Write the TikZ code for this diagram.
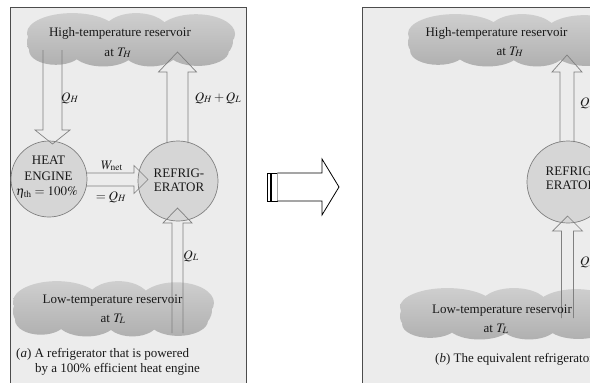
\documentclass[tikz,border=0pt]{standalone}
\usepackage{mathptmx}
\usepackage{fontspec}
\setmainfont{Liberation Serif}
\definecolor{panelbg}{gray}{0.925}
\definecolor{circfill}{gray}{0.84}
\definecolor{linegray}{gray}{0.5}
\definecolor{framec}{gray}{0.3}
\definecolor{cloudtop}{gray}{0.81}
\definecolor{cloudbot}{gray}{0.69}
\definecolor{txt}{gray}{0.1}
\newcommand\drawcloud[4]{%
  \begin{scope}[shift={(#1,#2)},xscale=#3,yscale=#4]
    \shade[top color=cloudtop,bottom color=cloudbot]
      (22,38) ellipse [x radius=22,y radius=36]
      (53,36) ellipse [x radius=16,y radius=34]
      (82,40) ellipse [x radius=19,y radius=36]
      (50,55) ellipse [x radius=48,y radius=30]
      (14,70) ellipse [x radius=13,y radius=26]
      (37,72) ellipse [x radius=15,y radius=27]
      (60,73) ellipse [x radius=13,y radius=26]
      (83,71) ellipse [x radius=15,y radius=27]
      (6,55) ellipse [x radius=6,y radius=25]
      (95,52) ellipse [x radius=5,y radius=25];
  \end{scope}}
% vertical block arrow: x, y start, y tip, shaft half, head half, head base y
\newcommand\varrow[6]{%
  \draw[arr] ({#1-#4},#2) -- ({#1-#4},#6) -- ({#1-#5},#6) -- (#1,#3)
    -- ({#1+#5},#6) -- ({#1+#4},#6) -- ({#1+#4},#2);}
% horizontal block arrow: y, x start, x tip, shaft half, head half, head base x
\newcommand\harrow[6]{%
  \draw[arr] (#2,{#1-#4}) -- (#6,{#1-#4}) -- (#6,{#1-#5}) -- (#3,#1)
    -- (#6,{#1+#5}) -- (#6,{#1+#4}) -- (#2,{#1+#4});}
\begin{document}
\begin{tikzpicture}[x=1pt,y=-1pt,
  font=\fontsize{13}{15}\selectfont,
  every node/.style={text=txt,inner sep=0pt},
  arr/.style={draw=linegray,line width=0.7pt,line join=miter},
  circ/.style={circle,draw=linegray,fill=circfill,line width=0.7pt},
  panel/.style={fill=panelbg,draw=framec,line width=1pt},
  lbl/.style={anchor=base},
  lblw/.style={anchor=base west},
  bigarrow/.style={draw=black,fill=white,line width=0.8pt}]
\clip (0,0) rectangle (590,383);
\fill[white] (0,0) rectangle (590,383);

% ---------------- left panel ----------------
\draw[panel] (10,7) rectangle (246,400);
\drawcloud{27}{12}{2.06}{0.55}
\drawcloud{13}{280}{1.99}{0.57}
\node[circ,minimum size=76pt] (he) at (49,179) {};
\node[circ,minimum size=80pt] (rf) at (178,181) {};
\varrow{52.5}{50}{144}{9.5}{17.5}{130}
\varrow{177.5}{143}{52}{10.5}{19}{72}
\varrow{177.5}{333}{208}{5.5}{14.5}{223}
\harrow{179.5}{86}{148}{6.5}{14}{134}

\node[lbl] (hotLa) at (120,36) {High-temperature reservoir};
\node[lbl] (hotLb) at (118,56) {at $T_H$};
\node[lbl] (qhL) at (70,101) {$Q_H$};
\node[lbl] (qhqlL) at (218,101) {$Q_H + Q_L$};
\node[lbl] (heA) at (48.5,164.5) {HEAT};
\node[lbl] (heB) at (48.5,180) {ENGINE};
\node[lbl] (heC) at (47,195.5) {$\eta_{\mathrm{th}} = 100\%$};
\node[lbl] (wnet) at (112,169) {$W_{\mathrm{net}}$};
\node[lbl] (eqqh) at (111,200) {$= Q_H$};
\node[lbl] (rfA) at (179,177) {REFRIG-};
\node[lbl] (rfB) at (179,191) {ERATOR};
\node[lbl] (qlL) at (191,259) {$Q_L$};
\node[lbl] (coldLa) at (112.5,303) {Low-temperature reservoir};
\node[lbl] (coldLb) at (113,322) {at $T_L$};
\node[lblw] (capa1) at (16,357) {(\textit{a}) A refrigerator that is powered};
\node[lblw] (capa2) at (35,372) {by a 100\% efficient heat engine};

% ---------------- big arrow ----------------
\draw[bigarrow] (267.3,173) rectangle (270.7,201);
\draw[bigarrow] (271.7,173) rectangle (277.3,201);
\draw[bigarrow] (277.3,173) -- (322,173) -- (322,159) -- (339,187)
  -- (322,215) -- (322,201) -- (277.3,201);

% ---------------- right panel ----------------
\draw[panel] (362,7) rectangle (620,400);
\drawcloud{408}{13}{2.15}{0.54}
\drawcloud{400}{287}{2.15}{0.53}
\node[circ,minimum size=82pt] (rfR) at (568,182) {};
\varrow{567}{142}{55}{7}{15}{72}
\varrow{567.5}{318}{216}{6}{15}{231}

\node[lbl] (hotRa) at (496.5,36) {High-temperature reservoir};
\node[lbl] (hotRb) at (510,55) {at $T_H$};
\node[lblw] (qlRt) at (580,106) {$Q_L$};
\node[lbl] (rfRA) at (571,175) {REFRIG-};
\node[lbl] (rfRB) at (571,189) {ERATOR};
\node[lblw] (qlRb) at (580,265) {$Q_L$};
\node[lbl] (coldRa) at (502,313) {Low-temperature reservoir};
\node[lbl] (coldRb) at (496,332) {at $T_L$};
\node[lblw] (capb) at (435,362) {(\textit{b}) The equivalent refrigerator};
\end{tikzpicture}
\end{document}
